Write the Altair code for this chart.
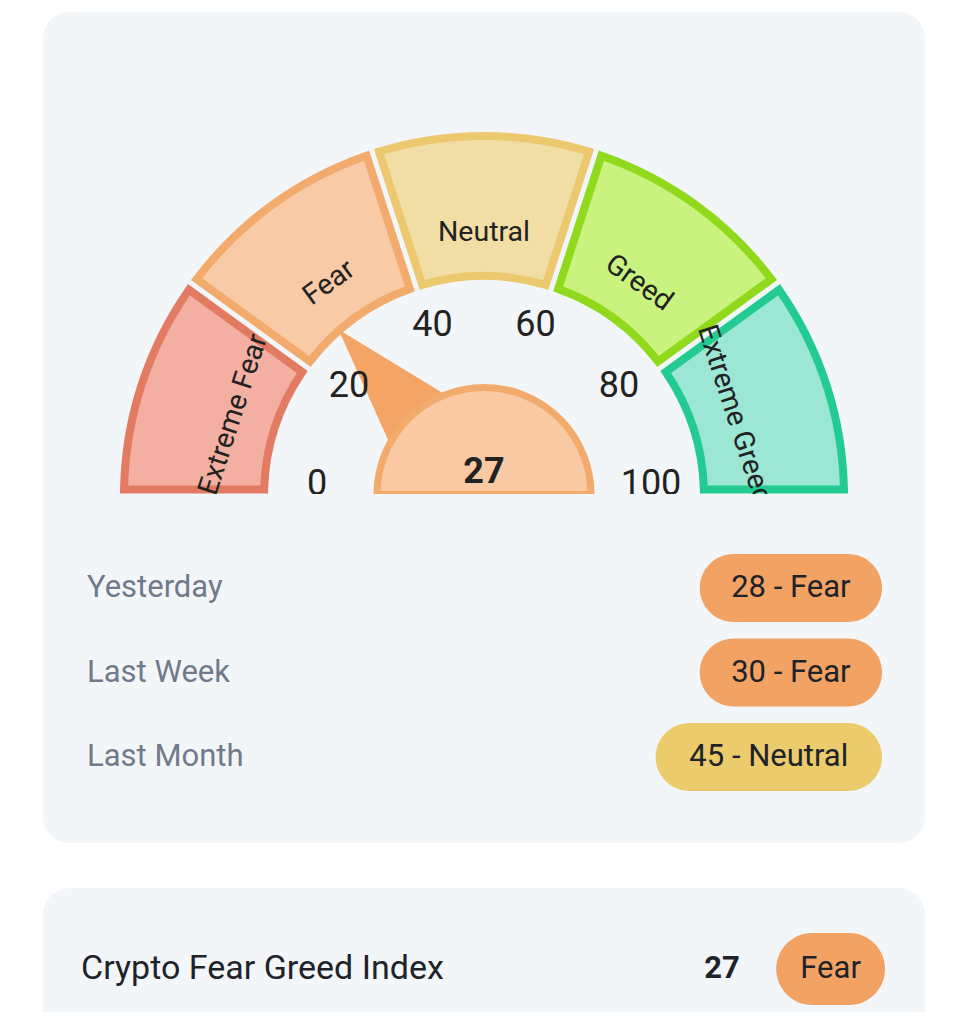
import altair as alt
import pandas as pd

# ---------------- data ----------------
zones = ["Extreme Fear", "Fear", "Neutral", "Greed", "Extreme Greed"]
zone_span = [20, 20, 20, 20, 20]
zone_fill = ["#F4AFA3", "#F9CAA6", "#F1DEA5", "#C9F27E", "#9CE6D6"]
zone_stroke = ["#E27B62", "#F3AB6D", "#ECC96F", "#90D91C", "#23CB93"]
ticks = [0, 20, 40, 60, 80, 100]
current_value = 27
current_class = "Fear"
hist_labels = ["Yesterday", "Last Week", "Last Month"]
hist_values = [28, 30, 45]
hist_classes = ["Fear", "Fear", "Neutral"]
index_title = "Crypto Fear Greed Index"
class_names = ["Fear", "Neutral"]
class_colors = ["#F2A263", "#EBCB6B"]

# ---------------- layout ----------------
W = 952
P1_H = 486
P2_H = 518
CARD_X1, CARD_X2 = 35, 917
CARD_FILL = "#F3F6F9"
FONT = "Roboto"
INK = "#1E2329"

CX = 476.0
CY = 488.0
R_OUT, R_IN = 360, 220
LBL_R = 264
TICK_CY = 476.0
TICK_R = 167
HUB_CY = 486.5
HUB_R = 107
NEEDLE_LEN = 220
PI = 3.141592653589793

one = pd.DataFrame({"k": [0]})
seg_df = pd.DataFrame({"zone": zones, "span": zone_span, "order": list(range(len(zones))),
                       "fill": zone_fill, "stroke": zone_stroke})
tick_df = pd.DataFrame({"v": ticks})
cur_df = pd.DataFrame({"value": [current_value], "cls": [current_class]})
hist_df = pd.DataFrame({"label": hist_labels, "value": hist_values, "cls": hist_classes})

# ---------------- panel 1: gauge ----------------
card1_top = alt.Chart(one).mark_rect(
    color=CARD_FILL, cornerRadiusTopLeft=26, cornerRadiusTopRight=26
).encode(x=alt.value(CARD_X1), x2=alt.value(CARD_X2), y=alt.value(4), y2=alt.value(P1_H))

arcs = alt.Chart(seg_df).mark_arc(
    radius=R_OUT, radius2=R_IN, padAngle=0.031, strokeWidth=8
).encode(
    theta=alt.Theta("span:Q", stack=True,
                    scale=alt.Scale(domain=[0, 100], range=[1.5 * PI, 2.5 * PI])),
    order=alt.Order("order:Q"),
    color=alt.Color("fill:N", scale=None),
    stroke=alt.Stroke("stroke:N", scale=None),
    x=alt.value(CX), y=alt.value(CY),
)

seg_labels = alt.Chart(seg_df).transform_window(
    cum="sum(span)", sort=[alt.SortField("order")], frame=[None, 0]
).transform_calculate(
    a="(datum.cum - datum.span / 2) * 1.8",
).transform_calculate(
    px=f"{CX} - {LBL_R} * cos(datum.a * PI / 180)",
    py=f"{CY} - {LBL_R} * sin(datum.a * PI / 180)",
    rot="(datum.a - 90 + 360) % 360",
).mark_text(
    font=FONT, fontSize=28.5, color="#222222", align="center", baseline="middle", clip=True
).encode(
    x=alt.X("px:Q", scale=None, axis=None),
    y=alt.Y("py:Q", scale=None, axis=None),
    text="zone:N",
    angle=alt.Angle("rot:Q", scale=None),
)

tick_labels = alt.Chart(tick_df).transform_calculate(
    px=f"{CX} - {TICK_R} * cos(datum.v * 1.8 * PI / 180)",
    py=f"{TICK_CY} - {TICK_R} * sin(datum.v * 1.8 * PI / 180)",
).mark_text(
    font=FONT, fontSize=36, color="#222222", align="center", baseline="middle"
).encode(
    x=alt.X("px:Q", scale=None, axis=None),
    y=alt.Y("py:Q", scale=None, axis=None),
    text="v:Q",
)

needle = alt.Chart(cur_df).transform_calculate(
    ang="(datum.value * 1.8 + 270) % 360"
).mark_point(
    shape="M0,-1L0.31,0L-0.31,0Z", filled=True, color="#F4A465", opacity=1,
    size=(2 * NEEDLE_LEN) ** 2, strokeWidth=0
).encode(
    x=alt.value(CX), y=alt.value(HUB_CY), angle=alt.Angle("ang:Q", scale=None)
)

hub = alt.Chart(cur_df).mark_arc(
    radius=HUB_R, theta=1.5 * PI, theta2=2.5 * PI,
    fill="#F9C9A4", stroke="#F3AB6D", strokeWidth=7
).encode(x=alt.value(CX), y=alt.value(HUB_CY))

hub_text = alt.Chart(cur_df).mark_text(
    font=FONT, fontSize=36, fontWeight="bold", color="#222222", align="center", baseline="middle"
).encode(x=alt.value(CX), y=alt.value(HUB_CY - 23), text="value:Q")

panel1 = alt.layer(card1_top, arcs, needle, hub, hub_text, tick_labels, seg_labels).properties(
    width=W, height=P1_H
)

# ---------------- panel 2: history rows ----------------
card1_bottom = alt.Chart(one).mark_rect(
    color=CARD_FILL, cornerRadiusBottomLeft=26, cornerRadiusBottomRight=26
).encode(x=alt.value(CARD_X1), x2=alt.value(CARD_X2), y=alt.value(0), y2=alt.value(349))

card2 = alt.Chart(one).mark_rect(
    color=CARD_FILL, cornerRadiusTopLeft=26, cornerRadiusTopRight=26
).encode(x=alt.value(CARD_X1), x2=alt.value(CARD_X2), y=alt.value(394), y2=alt.value(P2_H))

ROW_Y0, ROW_STEP = 94, 84.5
PILL_RIGHT, PILL_H = 874, 68
CHAR_W, PILL_PAD = 14.7, 50

rows_base = alt.Chart(hist_df).transform_window(
    idx="row_number()"
).transform_calculate(
    badge="datum.value + ' - ' + datum.cls",
    yc=f"{ROW_Y0} + (datum.idx - 1) * {ROW_STEP}",
).transform_calculate(
    w=f"length(datum.badge) * {CHAR_W} + {PILL_PAD}",
).transform_calculate(
    x1=f"{PILL_RIGHT} - datum.w",
    x2=f"{PILL_RIGHT}",
    xm=f"{PILL_RIGHT} - datum.w / 2",
    y1=f"datum.yc - {PILL_H / 2}",
    y2=f"datum.yc + {PILL_H / 2}",
)

row_labels = rows_base.mark_text(
    font=FONT, fontSize=31, color="#707A8A", align="left", baseline="middle"
).encode(x=alt.value(79), y=alt.Y("yc:Q", scale=None, axis=None), text="label:N")

pills = rows_base.mark_rect(cornerRadius=PILL_H / 2).encode(
    x=alt.X("x1:Q", scale=None, axis=None), x2="x2:Q",
    y=alt.Y("y1:Q", scale=None, axis=None), y2="y2:Q",
    color=alt.Color("cls:N", scale=alt.Scale(domain=class_names, range=class_colors), legend=None),
)

pill_text = rows_base.mark_text(
    font=FONT, fontSize=31, color=INK, align="center", baseline="middle"
).encode(x=alt.X("xm:Q", scale=None, axis=None), y=alt.Y("yc:Q", scale=None, axis=None), text="badge:N")

IDX_Y, IDX_PILL_H = 475, 72
idx_base = alt.Chart(cur_df).transform_calculate(
    w=f"length(datum.cls) * {CHAR_W} + {PILL_PAD}",
).transform_calculate(
    x1=f"{PILL_RIGHT + 3} - datum.w",
    x2=f"{PILL_RIGHT + 3}",
    xm=f"{PILL_RIGHT + 3} - datum.w / 2",
    y1=f"{IDX_Y - IDX_PILL_H / 2}",
    y2=f"{IDX_Y + IDX_PILL_H / 2}",
)

idx_title = alt.Chart(pd.DataFrame({"t": [index_title]})).mark_text(
    font=FONT, fontSize=34, color=INK, align="left", baseline="middle"
).encode(x=alt.value(73), y=alt.value(IDX_Y), text="t:N")

idx_value = alt.Chart(cur_df).mark_text(
    font=FONT, fontSize=31, fontWeight="bold", color=INK, align="center", baseline="middle"
).encode(x=alt.value(714), y=alt.value(IDX_Y), text="value:Q")

idx_pill = idx_base.mark_rect(cornerRadius=IDX_PILL_H / 2).encode(
    x=alt.X("x1:Q", scale=None, axis=None), x2="x2:Q",
    y=alt.Y("y1:Q", scale=None, axis=None), y2="y2:Q",
    color=alt.Color("cls:N", scale=alt.Scale(domain=class_names, range=class_colors), legend=None),
)

idx_pill_text = idx_base.mark_text(
    font=FONT, fontSize=31, color=INK, align="center", baseline="middle"
).encode(x=alt.X("xm:Q", scale=None, axis=None), y=alt.value(IDX_Y), text="cls:N")

panel2 = alt.layer(
    card1_bottom, card2, row_labels, pills, pill_text,
    idx_title, idx_value, idx_pill, idx_pill_text
).properties(width=W, height=P2_H)

chart = alt.vconcat(panel1, panel2, spacing=0, bounds="flush").resolve_scale(
    color="independent"
).properties(
    padding=0, background="white"
).configure_view(stroke=None)

chart.save("out.html", embed_options={"renderer": "svg", "actions": False})
